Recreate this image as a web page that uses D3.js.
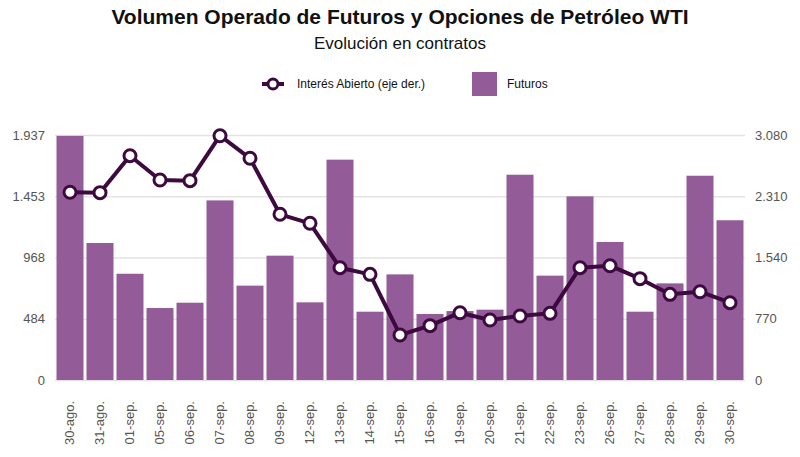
<!DOCTYPE html>
<html lang="es">

<head>
  <title>Volumen Operado WTI</title>
  <meta charset="UTF-8">
  <script src="https://cdn.jsdelivr.net/npm/d3@7"></script>
  <style>
    body { margin: 0; background: #fff; }
    text { font-family: "Liberation Sans", Arial, sans-serif; }
  </style>
</head>

<body>
  <svg id="chart" width="800" height="457"></svg>
  <script>
    // fechas de la serie
    var dias = ['30-ago.', '31-ago.', '01-sep.', '05-sep.', '06-sep.', '07-sep.', '08-sep.', '09-sep.',
      '12-sep.', '13-sep.', '14-sep.', '15-sep.', '16-sep.', '19-sep.', '20-sep.', '21-sep.', '22-sep.',
      '23-sep.', '26-sep.', '27-sep.', '28-sep.', '29-sep.', '30-sep.'];
    // futuros (eje izq.)
    var futuros = [1930, 1083, 840, 569, 611, 1420, 746, 983, 614, 1742, 540, 835,
      522, 545, 556, 1623, 825, 1452, 1091, 540, 764, 1615, 1263];
    // interés abierto (eje der.)
    var interes = [2360, 2355, 2820, 2514, 2506, 3071, 2787, 2083, 1970, 1412, 1328, 566,
      683, 846, 754, 805, 838, 1412, 1437, 1274, 1077, 1110, 972];
    var ticksIzq = [0, 484, 968, 1453, 1937];
    var ticksDer = [0, 770, 1540, 2310, 3080];

    var svg = d3.select('#chart');
    var m = { left: 55, right: 745, top: 135, bottom: 380 };

    var x = d3.scaleBand().domain(dias).range([m.left, m.right]).paddingInner(0.1).paddingOuter(0.05);
    var yL = d3.scaleLinear().domain([0, 1937]).range([m.bottom, m.top]);
    var yR = d3.scaleLinear().domain([0, 3080]).range([m.bottom, m.top]);

    // titulos
    svg.append('text').attr('x', 400).attr('y', 24).attr('text-anchor', 'middle')
      .style('font-size', '21px').style('font-weight', 'bold').attr('fill', '#111')
      .text('Volumen Operado de Futuros y Opciones de Petróleo WTI');
    svg.append('text').attr('x', 400).attr('y', 49).attr('text-anchor', 'middle')
      .style('font-size', '17px').attr('fill', '#111')
      .text('Evolución en contratos');

    // rejilla
    svg.append('g').selectAll('line').data(ticksIzq).enter().append('line')
      .attr('x1', m.left).attr('x2', m.right)
      .attr('y1', function (d) { return yL(d) + 0.5; }).attr('y2', function (d) { return yL(d) + 0.5; })
      .attr('stroke', '#e3e3e3').attr('stroke-width', 1.5);

    // ejes
    var fmt = function (d) { return d3.format(',')(d).replace(/,/g, '.'); };
    var axL = svg.append('g').attr('transform', 'translate(' + m.left + ',0)')
      .call(d3.axisLeft(yL).tickValues(ticksIzq).tickSize(0).tickPadding(10).tickFormat(fmt));
    var axR = svg.append('g').attr('transform', 'translate(' + m.right + ',0)')
      .call(d3.axisRight(yR).tickValues(ticksDer).tickSize(0).tickPadding(10).tickFormat(fmt));
    [axL, axR].forEach(function (a) {
      a.select('.domain').remove();
      a.selectAll('text').style('font-size', '13px').attr('fill', '#555');
    });

    var axB = svg.append('g').attr('transform', 'translate(0,' + m.bottom + ')')
      .call(d3.axisBottom(x).tickSize(0).tickPadding(0));
    axB.select('.domain').remove();
    axB.selectAll('text')
      .style('font-size', '13px').attr('fill', '#555')
      .attr('text-anchor', 'end')
      .attr('transform', 'translate(4,21) rotate(-90)')
      .attr('dy', 0);

    // barras
    svg.append('g').selectAll('rect').data(futuros).enter().append('rect')
      .attr('x', function (d, i) { return x(dias[i]); })
      .attr('width', x.bandwidth())
      .attr('y', function (d) { return yL(d); })
      .attr('height', function (d) { return m.bottom - yL(d); })
      .attr('fill', '#945b99');

    // linea
    var linea = d3.line()
      .x(function (d, i) { return x(dias[i]) + x.bandwidth() / 2; })
      .y(function (d) { return yR(d); });
    svg.append('path').datum(interes).attr('d', linea)
      .attr('fill', 'none').attr('stroke', '#3d0a40').attr('stroke-width', 4)
      .attr('stroke-linejoin', 'round');
    svg.append('g').selectAll('circle').data(interes).enter().append('circle')
      .attr('cx', function (d, i) { return x(dias[i]) + x.bandwidth() / 2; })
      .attr('cy', function (d) { return yR(d); })
      .attr('r', 6).attr('fill', '#fff').attr('stroke', '#3d0a40').attr('stroke-width', 3);

    // leyenda
    var lg = svg.append('g');
    lg.append('line').attr('x1', 262).attr('x2', 284).attr('y1', 84).attr('y2', 84)
      .attr('stroke', '#3d0a40').attr('stroke-width', 4);
    lg.append('circle').attr('cx', 273).attr('cy', 84).attr('r', 5)
      .attr('fill', '#fff').attr('stroke', '#3d0a40').attr('stroke-width', 3);
    lg.append('text').attr('x', 297).attr('y', 88).style('font-size', '12px').attr('fill', '#111')
      .text('Interés Abierto (eje der.)');
    lg.append('rect').attr('x', 472).attr('y', 72).attr('width', 25).attr('height', 24).attr('fill', '#945b99');
    lg.append('text').attr('x', 507).attr('y', 88).style('font-size', '12px').attr('fill', '#111')
      .text('Futuros');
  </script>
</body>

</html>
